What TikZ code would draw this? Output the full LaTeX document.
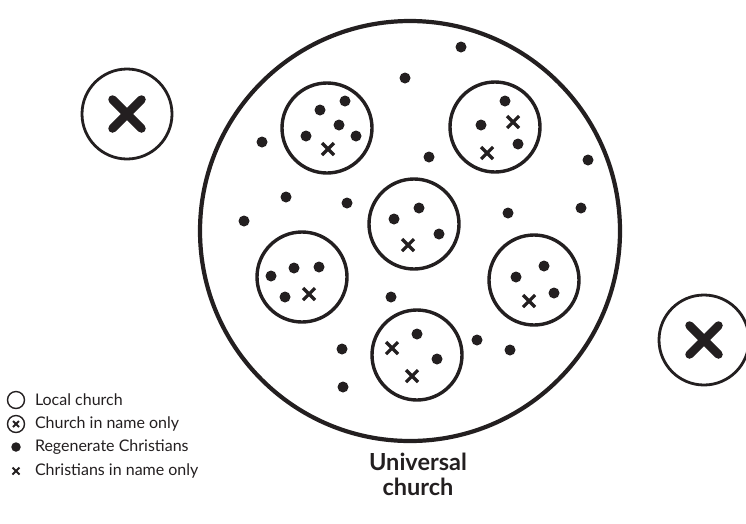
\documentclass[tikz,border=0pt]{standalone}
\usepackage{fontspec}
\setmainfont{Lato}
\definecolor{ink}{HTML}{231F20}
\begin{document}
\begin{tikzpicture}[x=1pt,y=-1pt,
  every node/.style={inner sep=0pt,outer sep=0pt},
  universal/.style={circle,draw=ink,line width=4.2pt,minimum size=420pt},
  localc/.style={circle,draw=ink,line width=3.4pt,minimum size=90pt},
  namec/.style={circle,draw=ink,line width=2.8pt,minimum size=90pt},
  regen/.style={circle,fill=ink,minimum size=11pt},
  xm/.pic={\draw[ink,line width=3.2pt] (-6,-6)--(6,6) (-6,6)--(6,-6);},
  bigx/.pic={\draw[ink,line width=8.5pt,line cap=round] (-14.5,-14.5)--(14.5,14.5) (-14.5,14.5)--(14.5,-14.5);},
  legtext/.style={anchor=west,font=\fontsize{16}{18}\selectfont,text=ink},
]
\useasboundingbox (0,0) rectangle (746,523);
% universal church
\node[universal] (U) at (410,231) {};
% local churches
\node[localc] (A) at (327,128) {};
\node[localc] (B) at (495,127) {};
\node[localc] (C) at (414,224) {};
\node[localc] (D) at (302,277) {};
\node[localc] (E) at (534,280) {};
\node[localc] (F) at (417,355) {};
% churches in name only
\node[namec] (N1) at (127,114) {};
\path (N1.center) pic {bigx};
\node[namec] (N2) at (704,340) {};
\path (N2.center) pic {bigx};
% dots inside A
\node[regen] (a1) at (345,101) {};
\node[regen] (a2) at (320,110) {};
\node[regen] (a3) at (339,125) {};
\node[regen] (a4) at (306,136) {};
\node[regen] (a5) at (356,136) {};
\path (328,149) pic {xm};
% B
\node[regen] (b1) at (505,101) {};
\node[regen] (b2) at (481,125) {};
\node[regen] (b3) at (518,144) {};
\path (513,122) pic {xm};
\path (487,153) pic {xm};
% C
\node[regen] (c1) at (419,208) {};
\node[regen] (c2) at (394,219) {};
\node[regen] (c3) at (439,234) {};
\path (408,245) pic {xm};
% D
\node[regen] (d1) at (271,276) {};
\node[regen] (d2) at (294,268) {};
\node[regen] (d3) at (319,267) {};
\node[regen] (d4) at (285,297) {};
\path (309,294) pic {xm};
% E
\node[regen] (e1) at (544,266) {};
\node[regen] (e2) at (516,277) {};
\node[regen] (e3) at (554,293) {};
\path (529,301) pic {xm};
% F
\node[regen] (f1) at (417,334) {};
\node[regen] (f2) at (437,359) {};
\path (392,348) pic {xm};
\path (412,376) pic {xm};
% free dots
\node[regen] (g1) at (461,47) {};
\node[regen] (g2) at (405,78) {};
\node[regen] (g3) at (262,142) {};
\node[regen] (g4) at (429,157) {};
\node[regen] (g5) at (588,160) {};
\node[regen] (g6) at (286,197) {};
\node[regen] (g7) at (347,203) {};
\node[regen] (g8) at (244,221) {};
\node[regen] (g9) at (581,208) {};
\node[regen] (g10) at (508,213) {};
\node[regen] (g11) at (391,297) {};
\node[regen] (g12) at (342,349) {};
\node[regen] (g13) at (477,340) {};
\node[regen] (g14) at (510,350) {};
\node[regen] (g15) at (343,387) {};
% title
\node[font=\bfseries\fontsize{23.5}{25}\selectfont,text=ink,align=center] (T) at (418,474) {Universal\\church};
% legend
\node[circle,draw=ink,line width=1.4pt,minimum size=17pt] (L1) at (16,400) {};
\node[legtext] (L1t) at (35,400) {Local church};
\node[circle,draw=ink,line width=1.4pt,minimum size=17pt] (L2) at (16,424) {};
\draw[ink,line width=1.8pt] ([shift={(-3,-3)}]L2.center)--([shift={(3,3)}]L2.center) ([shift={(-3,3)}]L2.center)--([shift={(3,-3)}]L2.center);
\node[legtext] (L2t) at (35,424) {Church in name only};
\node[circle,fill=ink,minimum size=9.5pt] (L3) at (16,447) {};
\node[legtext] (L3t) at (35,447) {Regenerate Christians};
\draw[ink,line width=2pt] (12.5,467.5)--(19.5,474.5) (12.5,474.5)--(19.5,467.5);
\coordinate (L4) at (16,471);
\node[legtext] (L4t) at (35,471) {Christians in name only};
\end{tikzpicture}
\end{document}
